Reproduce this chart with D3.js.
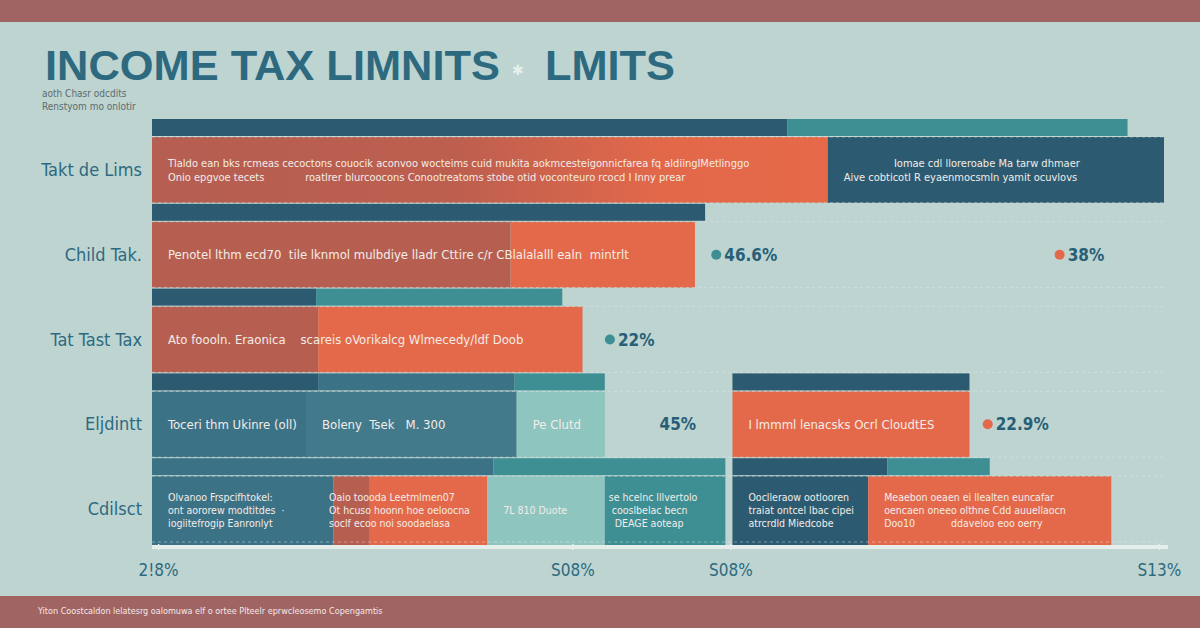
<!DOCTYPE html>
<html><head><meta charset="utf-8">
<script src="https://cdn.jsdelivr.net/npm/d3@7"></script>
<style>
html,body{margin:0;padding:0;background:#bdd4d1;}
svg{display:block;}
</style></head>
<body>
<svg id="chart" width="1200" height="628"></svg>
<script>
// ---------- data ----------
const categories = ["Takt de Lims", "Child Tak.", "Tat Tast Tax", "Eljdintt", "Cdilsct"];

// thin strip segments above each main bar: [category index, series, from, to]
const stripBars = [
  [0, "navy", 0, 62.7], [0, "teal", 62.7, 96.3],
  [1, "navy", 0, 54.6],
  [2, "navy", 0, 16.2], [2, "teal", 16.2, 40.5],
  [3, "navy", 0, 16.4], [3, "steel", 16.4, 35.8], [3, "teal", 35.8, 44.7],
  [3, "navy", 57.3, 80.7],
  [4, "steel", 0, 33.7], [4, "teal", 33.7, 56.6],
  [4, "navy", 57.3, 72.6], [4, "teal", 72.6, 82.7]
];

// main bar segments: [category index, series, from, to]
const mainBars = [
  [0, "warm", 0, 66.7], [0, "navy", 66.7, 99.9],
  [1, "brick", 0, 35.4], [1, "orange", 35.4, 53.6],
  [2, "brick", 0, 16.4], [2, "orange", 16.4, 42.5],
  [3, "steel", 0, 15.2], [3, "slate", 15.2, 36.0], [3, "mint", 36.0, 44.7],
  [3, "orange", 57.3, 80.7],
  [4, "steel", 0, 17.9], [4, "brick", 17.9, 21.5], [4, "orange", 21.5, 33.1],
  [4, "mint", 33.1, 44.7], [4, "teal", 44.7, 56.6],
  [4, "navy", 57.3, 70.7], [4, "orange", 70.7, 94.7]
];

// texts printed inside bars: [category index, start value, lines]
const barTexts = [
  [0, 0, ["Tlaldo ean bks rcmeas cecoctons couocik aconvoo wocteims cuid mukita aokmcesteigonnicfarea fq aldiingIMetlinggo",
          "Onio epgvoe tecets             roatlrer blurcoocons Conootreatoms stobe otid voconteuro rcocd I Inny prear"]],
  [0, 66.7, ["                Iomae cdl lloreroabe Ma tarw dhmaer",
             "Aive cobticotl R eyaenmocsmln yamit ocuvlovs"]],
  [1, 0, ["Penotel lthm ecd70  tile lknmol mulbdiye lladr Cttire c/r CBlalalalll ealn  mintrlt"]],
  [2, 0, ["Ato foooln. Eraonica    scareis oVorikalcg Wlmecedy/ldf Doob"]],
  [3, 0, ["Toceri thm Ukinre (oll)"]],
  [3, 15.2, ["Boleny  Tsek   M. 300"]],
  [3, 36.0, ["Pe Clutd"]],
  [3, 57.3, ["I lmmml lenacsks Ocrl CloudtES"]],
  [4, 0, ["Olvanoo Frspcifhtokel:", "ont aororew modtitdes  ·", "iogiitefrogip Eanronlyt"]],
  [4, 15.9, ["Oaio toooda Leetmlmen07", "Ot hcuso hoonn hoe oeloocna", "soclf ecoo noi soodaelasa"]],
  [4, 33.1, ["7L 810 Duote"]],
  [4, 44.7, ["se hcelnc lllvertolo", " cooslbelac becn", "  DEAGE aoteap"]],
  [4, 57.3, ["Ooclleraow ootlooren", "traiat ontcel lbac cipei", "atrcrdld Miedcobe"]],
  [4, 70.7, ["Meaebon oeaen ei llealten euncafar", "oencaen oneeo olthne Cdd auuellaocn", "Doo10            ddaveloo eoo oerry"]]
];

// value call-outs beside bars: [category index, value position, text, marker series]
const valueLabels = [
  [1, 55.7, "46.6%", "teal"],
  [1, 89.6, "38%", "orange"],
  [2, 45.2, "22%", "teal"],
  [3, 50.1, "45%", null],
  [3, 82.5, "22.9%", "orange"]
];

const tickValues = [0.6, 41.5, 57.1, 99.4];
const tickLabels = ["2!8%", "S08%", "S08%", "S13%"];

const titleMain = "INCOME TAX LIMNITS";
const titleTail = "LMITS";
const subtitleLines = ["aoth Chasr odcdits", "Renstyom mo onlotir"];
const footerText = "Yiton Coostcaldon lelatesrg oalomuwa elf o ortee Plteelr eprwcleosemo Copengamtis";

// ---------- styles ----------
const colors = {
  navy: "#2c5b71", teal: "#3e8f93", steel: "#3c7286", slate: "#437a8b",
  mint: "#8fc5bf", brick: "#b65f51", orange: "#e4694a", warm: "url(#warm)"
};
const band = "#a06462";
const ink = "#2d6a80";
const narrow = "'Liberation Sans Narrow','DejaVu Sans Condensed',sans-serif";

// ---------- drawing ----------
const svg = d3.select("#chart");
const W = 1200, H = 628;

svg.append("rect").attr("width", W).attr("height", H).attr("fill", "#bdd4d1");
svg.append("rect").attr("width", W).attr("height", 22).attr("fill", band);
svg.append("rect").attr("y", 596).attr("width", W).attr("height", 32).attr("fill", band);

// title
svg.append("text").attr("x", 45).attr("y", 80)
  .attr("font-family", "'Liberation Sans',Arial,sans-serif").attr("font-weight", 900)
  .attr("font-size", 42).attr("fill", ink)
  .attr("textLength", 455).attr("lengthAdjust", "spacingAndGlyphs")
  .text(titleMain);
svg.append("text").attr("x", 512).attr("y", 75)
  .attr("font-family", "DejaVu Sans,sans-serif").attr("font-size", 14).attr("fill", "#e8f0ee")
  .text("✱");
svg.append("text").attr("x", 545).attr("y", 80)
  .attr("font-family", "'Liberation Sans',Arial,sans-serif").attr("font-weight", 900)
  .attr("font-size", 42).attr("fill", ink)
  .attr("textLength", 130).attr("lengthAdjust", "spacingAndGlyphs")
  .text(titleTail);

svg.selectAll("text.sub").data(subtitleLines).join("text")
  .attr("class", "sub").attr("x", 42).attr("y", (d, i) => 97 + i * 13)
  .attr("font-family", narrow).attr("font-size", 10).attr("fill", "#5d6b6d")
  .text(d => d);

// scales
const x = d3.scaleLinear().domain([0, 100]).range([152, 1165]);
const y = d3.scaleBand().domain(categories).range([119, 543]).paddingInner(0);
const step = y.bandwidth();
const stripH = 17;
const mainTop = c => y(categories[c]) + stripH + 1;
const mainH = step - stripH - 2;

// gradient for the soft brick-to-orange transition
const defs = svg.append("defs");
const g1 = defs.append("linearGradient").attr("id", "warm").attr("x1", "0").attr("x2", "1");
g1.append("stop").attr("offset", "0%").attr("stop-color", "#b55e51");
g1.append("stop").attr("offset", "45%").attr("stop-color", "#bd5f4f");
g1.append("stop").attr("offset", "75%").attr("stop-color", "#e2684a");
g1.append("stop").attr("offset", "100%").attr("stop-color", "#e66a49");

// strips
svg.append("g").selectAll("rect").data(stripBars).join("rect")
  .attr("x", d => x(d[2])).attr("width", d => x(d[3]) - x(d[2]))
  .attr("y", d => y(categories[d[0]])).attr("height", stripH)
  .attr("fill", d => colors[d[1]]);

// main bars
svg.append("g").selectAll("rect").data(mainBars).join("rect")
  .attr("x", d => x(d[2])).attr("width", d => x(d[3]) - x(d[2]))
  .attr("y", d => mainTop(d[0])).attr("height", d => d[0] === categories.length - 1 ? mainH + 3 : mainH)
  .attr("fill", d => colors[d[1]]);

// faint dashed gridlines
const gridYs = categories.flatMap((c, i) => [mainTop(i), y(c) + step - 1]);
svg.append("g").selectAll("line").data(gridYs).join("line")
  .attr("x1", x(0)).attr("x2", x(100)).attr("y1", d => d).attr("y2", d => d)
  .attr("stroke", "#dfeae8").attr("stroke-opacity", 0.45).attr("stroke-dasharray", "3,3");

// row labels
svg.append("g").selectAll("text").data(categories).join("text")
  .attr("x", 142).attr("y", (d, i) => mainTop(i) + mainH / 2 + 6)
  .attr("text-anchor", "end").attr("font-family", narrow).attr("font-size", 18)
  .attr("fill", ink).text(d => d);

// bar texts
const bt = svg.append("g").selectAll("text").data(barTexts).join("text")
  .attr("font-family", narrow).attr("fill", "#f3ece8")
  .attr("font-size", d => d[0] === 4 ? 10.5 : (d[0] === 0 ? 11 : 13));
bt.each(function(d) {
  const n = d[2].length;
  const fs = d[0] === 4 ? 10.5 : (d[0] === 0 ? 11 : 13);
  const lh = fs * 1.25;
  const h = d[0] === 4 ? mainH + 3 : mainH;
  const cy = mainTop(d[0]) + h / 2;
  const startY = cy - (n - 1) * lh / 2 + fs * 0.35;
  const pad = (d[0] === 4 && (d[1] === 44.7)) ? 4 : 16;
  d3.select(this).selectAll("tspan").data(d[2]).join("tspan")
    .attr("x", x(d[1]) + pad).attr("y", (l, i) => startY + i * lh)
    .attr("xml:space", "preserve").style("white-space", "pre")
    .text(l => l);
});

// value call-outs
const vl = svg.append("g").selectAll("g").data(valueLabels).join("g")
  .attr("transform", d => `translate(${x(d[1])},${mainTop(d[0]) + mainH / 2})`);
vl.filter(d => d[3]).append("circle").attr("r", 5).attr("cx", 0).attr("cy", 0)
  .attr("fill", d => colors[d[3]]);
vl.append("text").attr("x", d => d[3] ? 8 : 0).attr("y", 6)
  .attr("font-family", narrow).attr("font-size", 17).attr("font-weight", 600)
  .attr("fill", "#285f77").text(d => d[2]);

// axis
const axisY = 547;
svg.append("line").attr("x1", x(0)).attr("x2", x(100.3)).attr("y1", axisY).attr("y2", axisY)
  .attr("stroke", "#e6eeec").attr("stroke-width", 4);
const axis = d3.axisBottom(x).tickValues(tickValues)
  .tickFormat((d, i) => tickLabels[i]).tickSize(6).tickPadding(14);
const ax = svg.append("g").attr("transform", `translate(0,${axisY - 3})`).call(axis);
ax.select(".domain").remove();
ax.selectAll(".tick line").attr("stroke", "#e6eeec").attr("stroke-width", 1.5);
ax.selectAll(".tick text").attr("font-family", narrow).attr("font-size", 17)
  .attr("fill", ink);

// footer
svg.append("text").attr("x", 38).attr("y", 614)
  .attr("font-family", narrow).attr("font-size", 9).attr("fill", "#f4e9e8")
  .text(footerText);
</script>
</body></html>
